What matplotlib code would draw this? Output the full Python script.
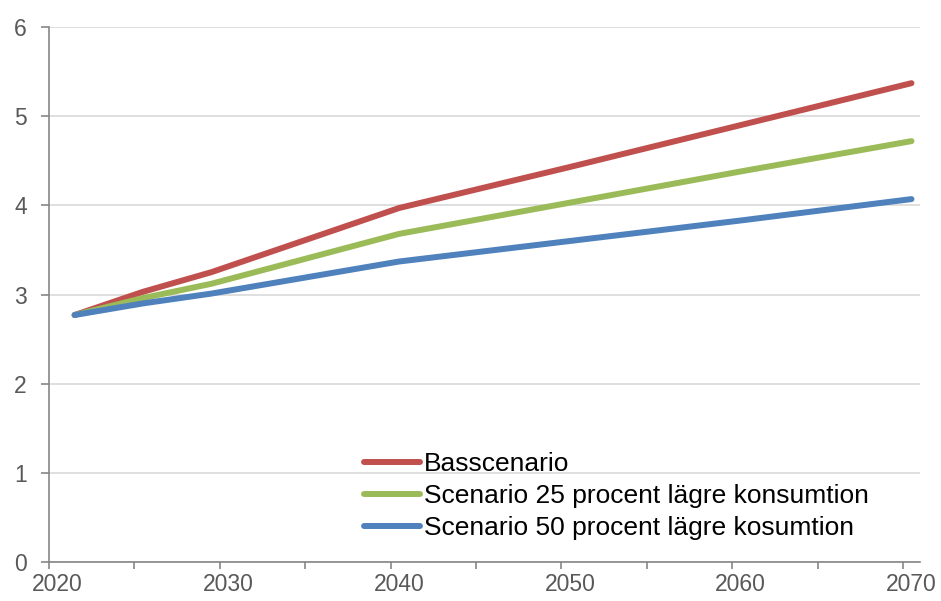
"""
Linjediagram: tre scenarier 2021-2070
"""

import matplotlib
matplotlib.use('Agg')
import matplotlib.pyplot as plt

# Data avläst från originalbilden
years = [2021, 2025, 2029, 2040, 2050, 2060, 2070]
bas = [2.77, 3.03, 3.25, 3.97, 4.43, 4.90, 5.37]
scen25 = [2.77, 2.96, 3.12, 3.68, 4.03, 4.38, 4.72]
scen50 = [2.77, 2.90, 3.01, 3.37, 3.60, 3.83, 4.07]

labels = ['Basscenario',
          'Scenario 25 procent lägre konsumtion',
          'Scenario 50 procent lägre kosumtion']
colors = ['#C0504D', '#9BBB59', '#4F81BD']

label_years = [2020, 2030, 2040, 2050, 2060, 2070]
y_ticks = [0, 1, 2, 3, 4, 5, 6]

plt.rcParams['font.family'] = ['Liberation Sans', 'DejaVu Sans']

fig = plt.figure(figsize=(9.41, 6.01), dpi=100)
ax = fig.add_axes([49 / 941, 39 / 601, 871 / 941, 535 / 601])

for series, lab, col in zip([bas, scen25, scen50], labels, colors):
    ax.plot(years, series, color=col, linewidth=4.3, label=lab,
            solid_capstyle='round', solid_joinstyle='round')

ax.set_xlim(2019.5, 2070.5)
ax.set_ylim(0, 6)

# Kategoriaxel: streck mellan kategorierna, etiketter på kategorin
ax.set_xticks([2019.5 + 5 * i for i in range(11)])
ax.set_xticklabels([])
ax.set_xticks(label_years, minor=True)
ax.set_xticklabels([str(y) for y in label_years], minor=True)
ax.tick_params(axis='x', which='major', direction='out', length=5,
               width=1.2, color='#868686')
ax.tick_params(axis='x', which='minor', length=0, pad=8,
               labelsize=16.5, labelcolor='#595959')

ax.set_yticks(y_ticks)
ax.tick_params(axis='y', direction='out', length=6, width=1.2,
               color='#868686', pad=10, labelsize=16.5, labelcolor='#595959')

ax.grid(axis='y', color='#D9D9D9', linewidth=1.2)
ax.set_axisbelow(True)

for side in ['top', 'right']:
    ax.spines[side].set_visible(False)
for side in ['left', 'bottom']:
    ax.spines[side].set_color('#868686')
    ax.spines[side].set_linewidth(1.2)

leg = ax.legend(loc='upper left', bbox_to_anchor=(0.3617, 0.206),
                frameon=False, fontsize=19, handlelength=2.12,
                handletextpad=0.15, labelspacing=0.31, borderpad=0,
                borderaxespad=0)
for t in leg.get_texts():
    t.set_color('black')

plt.savefig('out.png', dpi=100)
plt.close()
